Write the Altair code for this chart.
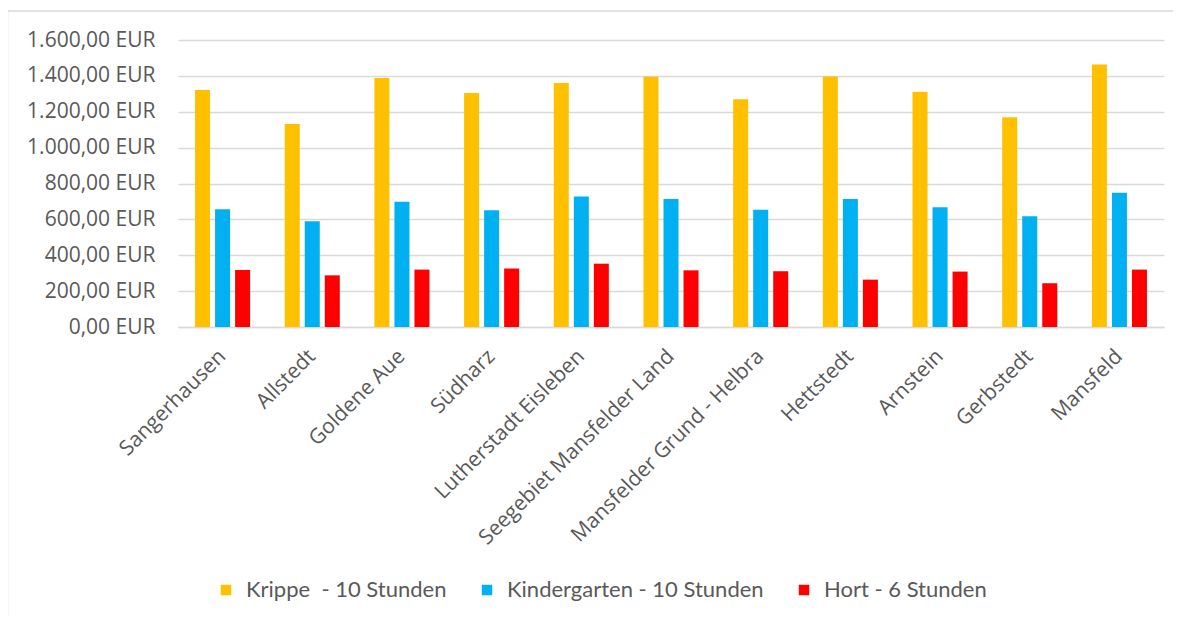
import altair as alt
import pandas as pd

categories = ["Sangerhausen", "Allstedt", "Goldene Aue", "Südharz", "Lutherstadt Eisleben",
              "Seegebiet Mansfelder Land", "Mansfelder Grund - Helbra", "Hettstedt",
              "Arnstein", "Gerbstedt", "Mansfeld"]
series = ["Krippe\u00a0 - 10 Stunden", "Kindergarten - 10 Stunden", "Hort - 6 Stunden"]
colors = ["#FFC000", "#00B0F0", "#FF0000"]

krippe = [1321, 1132, 1388, 1304, 1360, 1395, 1269, 1396, 1312, 1170, 1464]
kindergarten = [656, 589, 698, 651, 727, 713, 653, 713, 668, 618, 748]
hort = [318, 288, 320, 326, 353, 316, 311, 264, 309, 244, 320]

rows = []
for s, vals in zip(series, [krippe, kindergarten, hort]):
    for c, v in zip(categories, vals):
        rows.append({"Gemeinde": c, "Serie": s, "Wert": v})
df = pd.DataFrame(rows)

FONT_AXIS = "Open Sans"
FONT_LEG = "Lato"
TXT = "#595959"
GRID = "#d9d9d9"

bars = alt.Chart(df).mark_bar().encode(
    x=alt.X("Gemeinde:N", sort=categories, title=None,
            scale=alt.Scale(paddingInner=0.386, paddingOuter=0.19),
            axis=alt.Axis(labelAngle=-45, labelAlign="right", labelBaseline="middle",
                          labelPadding=26, ticks=False, domain=True, domainColor=GRID,
                          domainWidth=1.3, labelFont=FONT_AXIS, labelFontSize=21,
                          labelColor=TXT, labelLimit=400)),
    xOffset=alt.XOffset("Serie:N", sort=series,
                        scale=alt.Scale(paddingInner=0.25, paddingOuter=0)),
    y=alt.Y("Wert:Q", title=None,
            scale=alt.Scale(domain=[0, 1600], nice=False),
            axis=alt.Axis(values=list(range(0, 1601, 200)), ticks=False, domain=False,
                          gridColor=GRID, gridWidth=1.3, labelPadding=23,
                          labelFont=FONT_AXIS, labelFontSize=21, labelColor=TXT,
                          labelExpr="replace(replace(replace(format(datum.value, ',.2f'), ',', '#'), '.', ','), '#', '.') + ' EUR'")),
    color=alt.Color("Serie:N", sort=series, title=None,
                    scale=alt.Scale(domain=series, range=colors),
                    legend=alt.Legend(orient="none", legendX=37, legendY=539,
                                      direction="horizontal", symbolType="square",
                                      symbolSize=110, symbolStrokeWidth=0,
                                      labelFont=FONT_LEG, labelFontSize=22, labelColor=TXT,
                                      labelOffset=9, columnPadding=29, padding=0,
                                      labelLimit=400)),
)

frame = alt.Chart(pd.DataFrame({"k": [0]})).mark_rect(
    fill=None, stroke=GRID, strokeWidth=1.5
).encode(
    x=alt.value(-170.5), x2=alt.value(1100), y=alt.value(-29), y2=alt.value(700)
)

chart = alt.layer(frame, bars).properties(
    width=986, height=287,
    autosize=alt.AutoSizeParams(type="none"),
    padding={"left": 170, "top": 32, "right": 9, "bottom": 288},
    background="white",
).configure_view(stroke=None)

chart.save("out.html", embed_options={"renderer": "svg", "actions": False})
